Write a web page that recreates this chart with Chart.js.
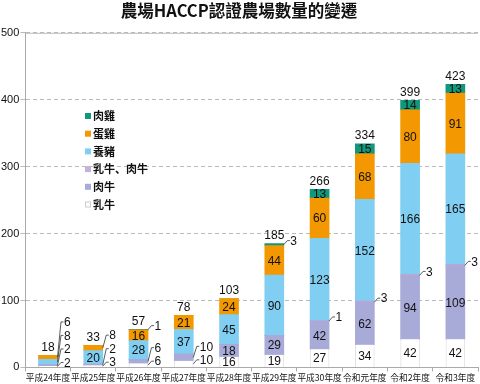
<!DOCTYPE html>
<html><head><meta charset="utf-8">
<script src="https://cdn.jsdelivr.net/npm/chart.js@4/dist/chart.umd.min.js"></script>
<style>body{margin:0;background:#fff}canvas{display:block}</style>
</head><body>
<canvas id="c" width="480" height="384"></canvas>
<script>
const categories = ['平成24年度','平成25年度','平成26年度','平成27年度','平成28年度','平成29年度','平成30年度','令和元年度','令和2年度','令和3年度'];
const seriesNames = ['乳牛','肉牛','乳牛、肉牛','養豬','蛋雞','肉雞'];
const dairy     = [2, 3, 6, 10, 16, 19, 27, 34, 42, 42];
const beef      = [2, 2, 6, 10, 18, 29, 42, 62, 94, 109];
const dairyBeef = [0, 0, 0, 0, 0, 0, 1, 3, 3, 3];
const pigs      = [8, 20, 28, 37, 45, 90, 123, 152, 166, 165];
const layers    = [6, 8, 16, 21, 24, 44, 60, 68, 80, 91];
const broilers  = [0, 0, 1, 0, 0, 3, 13, 15, 14, 13];
const yTickValues = [0, 100, 200, 300, 400, 500];

const colors = ['#ffffff', '#a8aad8', '#b8a6d6', '#80cef2', '#f39800', '#11977a'];
const legendColors = ['#ffffff', '#a8aad8', '#c2b2da', '#80cef2', '#f39800', '#11977a'];
const seriesData = [dairy, beef, dairyBeef, pigs, layers, broilers];

const NUM_FONT = '"Liberation Sans", Arial, sans-serif';
const CJK_FONT = '"Noto Sans CJK JP", "Noto Sans CJK TC", sans-serif';

const datasets = seriesNames.map((n, i) => ({
  label: n,
  data: seriesData[i],
  backgroundColor: colors[i],
  borderColor: i === 0 ? '#e2e2e2' : colors[i],
  borderWidth: i === 0 ? {left:1, right:1, top:0, bottom:0} : 0,
  borderSkipped: false,
  barThickness: 19
}));

const labelPlugin = {
  id: 'labels',
  afterDatasetsDraw(chart) {
    const ctx = chart.ctx;
    const area = chart.chartArea;
    ctx.save();
    ctx.font = '12px ' + NUM_FONT;
    ctx.fillStyle = '#111';
    for (let i = 0; i < categories.length; i++) {
      let prevY = null;
      let topY = Infinity, cx = 0, total = 0;
      for (let d = 0; d < chart.data.datasets.length; d++) {
        const v = chart.data.datasets[d].data[i];
        const el = chart.getDatasetMeta(d).data[i];
        cx = el.x;
        total += v;
        if (!v) continue;
        topY = Math.min(topY, el.y);
        const mid = (el.y + el.base) / 2;
        if (v >= 12) {
          ctx.textAlign = 'center';
          ctx.textBaseline = 'middle';
          ctx.fillText(String(v), el.x, mid + 1);
        } else {
          let ly = Math.min(mid - 4, area.bottom - 5);
          if (prevY !== null && ly > prevY - 13.5) ly = prevY - 13.5;
          prevY = ly;
          const right = el.x + el.width / 2;
          ctx.strokeStyle = '#333';
          ctx.lineWidth = 0.8;
          ctx.beginPath();
          ctx.moveTo(right, mid);
          ctx.lineTo(right + 3.5, ly);
          ctx.lineTo(right + 6, ly);
          ctx.stroke();
          ctx.textAlign = 'left';
          ctx.textBaseline = 'middle';
          ctx.fillText(String(v), right + 6.5, ly + 1);
        }
      }
      ctx.textAlign = 'center';
      ctx.textBaseline = 'bottom';
      ctx.fillText(String(total), cx, topY - 2);
    }
    ctx.restore();
  }
};

const legendPlugin = {
  id: 'customLegend',
  afterDraw(chart) {
    const ctx = chart.ctx;
    ctx.save();
    ctx.font = 'bold 11px ' + CJK_FONT;
    ctx.textBaseline = 'middle';
    ctx.textAlign = 'left';
    const n = chart.data.datasets.length;
    for (let k = 0; k < n; k++) {
      const d = n - 1 - k;
      const y = 116 + k * 17.7;
      ctx.fillStyle = legendColors[d];
      ctx.fillRect(85, y - 3, 6, 6);
      if (d === 0) { ctx.strokeStyle = '#ccc'; ctx.lineWidth = 1; ctx.strokeRect(85.5, y - 2.5, 5, 5); }
      ctx.fillStyle = '#111';
      ctx.fillText(chart.data.datasets[d].label, 93, y);
    }
    ctx.restore();
  }
};

const topLinePlugin = {
  id: 'topLine',
  beforeDatasetsDraw(chart) {
    const {ctx, chartArea} = chart;
    ctx.save();
    ctx.strokeStyle = '#bbb';
    ctx.lineWidth = 1;
    ctx.beginPath();
    ctx.moveTo(chartArea.left, chartArea.top + 0.5);
    ctx.lineTo(chartArea.right, chartArea.top + 0.5);
    ctx.stroke();
    ctx.restore();
  }
};

new Chart(document.getElementById('c'), {
  type: 'bar',
  data: { labels: categories, datasets },
  options: {
    responsive: false,
    animation: false,
    layout: { padding: { left: 0, right: 2, top: 0, bottom: 1 } },
    plugins: {
      legend: { display: false },
      tooltip: { enabled: false },
      title: {
        display: true,
        text: '農場HACCP認證農場數量的變遷',
        color: '#111',
        font: { size: 16.5, weight: 'bold', family: '"Noto Sans CJK TC", sans-serif' },
        padding: { top: 1, bottom: 12 }
      }
    },
    scales: {
      x: {
        stacked: true,
        grid: { display: true, drawOnChartArea: false, drawTicks: true, tickLength: 4, color: '#aaa', offset: true },
        border: { display: true, color: '#aaa' },
        ticks: {
          color: '#111', maxRotation: 0, minRotation: 0, autoSkip: false, padding: 1,
          font: { size: 8.7, family: CJK_FONT, lineHeight: 1.1 }
        }
      },
      y: {
        stacked: true,
        min: 0, max: 500,
        afterBuildTicks(scale) { scale.ticks = yTickValues.map(v => ({ value: v })); },
        grid: { color: '#bbb', tickLength: 5 },
        border: { display: true, color: '#aaa', dash: [4, 3] },
        ticks: { color: '#111', padding: 1, font: { size: 11, family: NUM_FONT } }
      }
    }
  },
  plugins: [topLinePlugin, labelPlugin, legendPlugin]
});
</script>
</body></html>
